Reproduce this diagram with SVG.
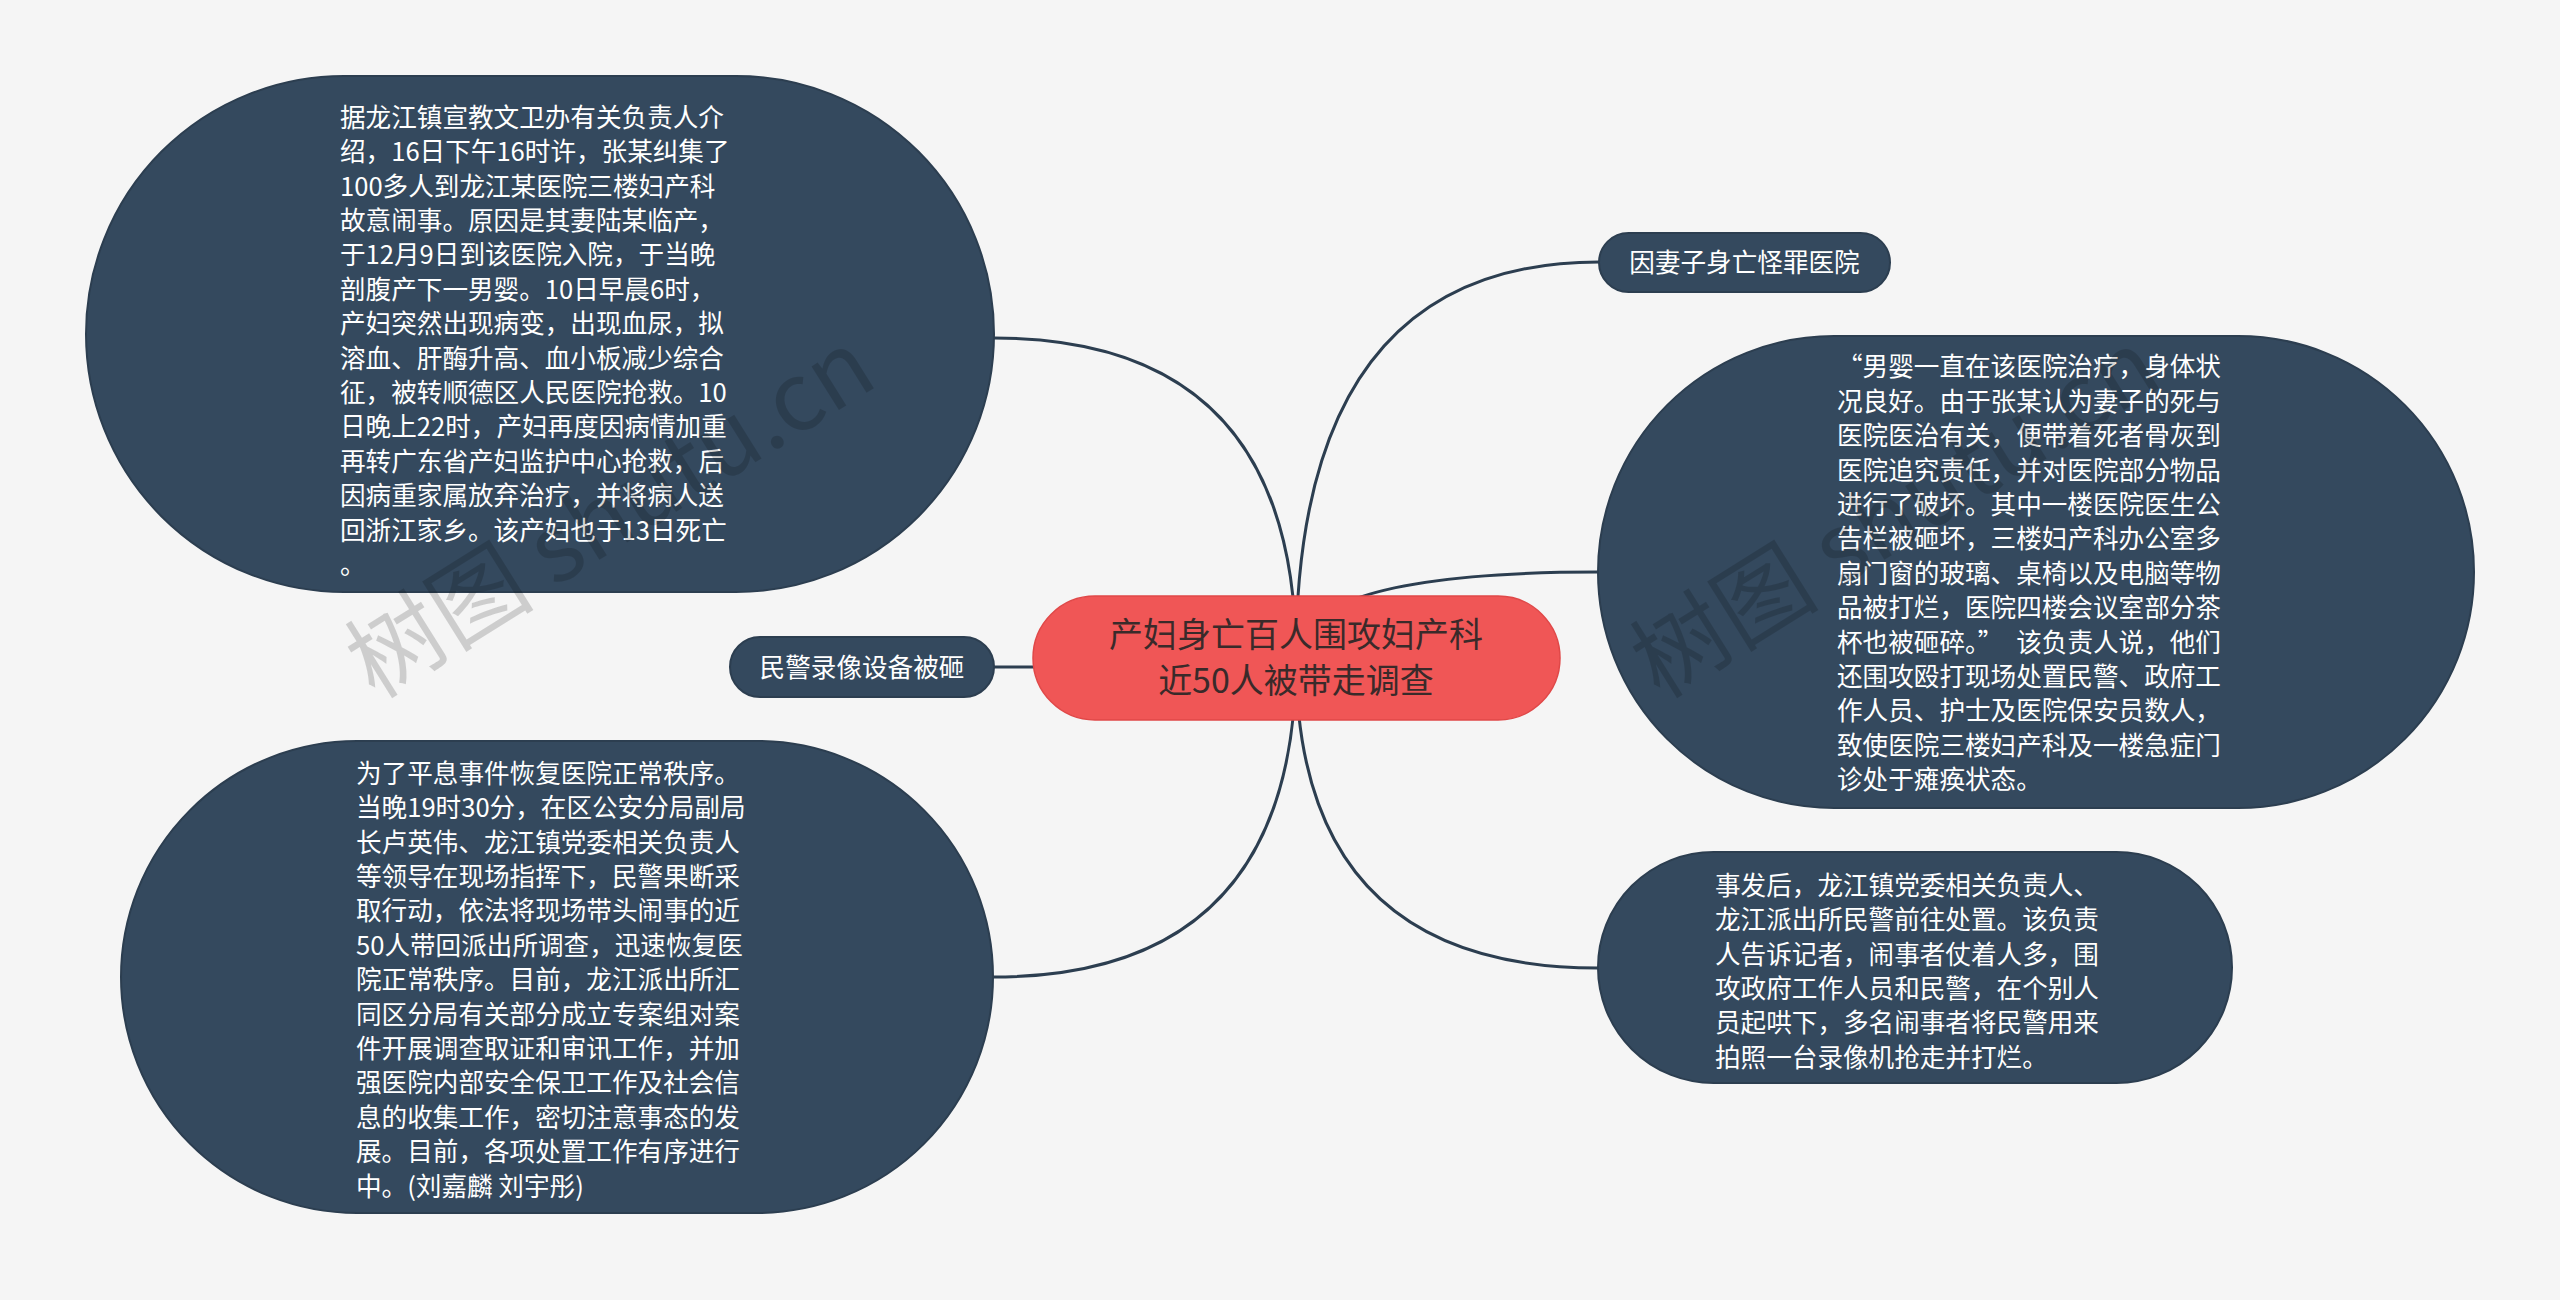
<svg xmlns="http://www.w3.org/2000/svg" width="2560" height="1300" viewBox="0 0 2560 1300">
<style>
.bg{fill:#F5F5F5}
.node{fill:#34495E;stroke:#2C3E50;stroke-width:2}
.root{fill:#F05656;stroke:#E04848;stroke-width:1.5}
.t{font-family:"Noto Sans CJK SC","Liberation Sans",sans-serif;font-size:25.6px;fill:#FFFFFF}
.c{text-anchor:middle}
.rt{font-family:"Noto Sans CJK SC","Liberation Sans",sans-serif;font-size:34px;fill:#3A2A2A;text-anchor:middle}
.edge{fill:none;stroke:#2C3E50;stroke-width:3}
.wm{font-family:"Noto Sans CJK SC","Liberation Sans",sans-serif;font-size:95px;fill:#000000;fill-opacity:0.16}
</style>
<rect class="bg" x="0" y="0" width="2560" height="1300"/>
<g id="connectors">
<path class="edge" d="M1296 658 Q1296 338 994 338"/>
<path class="edge" d="M1296 658 Q1296 262 1599 262"/>
<path class="edge" d="M1296 658 Q1296 572 1598 572"/>
<path class="edge" d="M1296 658 Q1296 667 994 667"/>
<path class="edge" d="M1296 658 Q1296 977 993 977"/>
<path class="edge" d="M1296 658 Q1296 968 1598 968"/>
</g>
<g id="root">
<rect class="root" x="1033" y="596" width="527" height="124" rx="62"/>
<text class="rt" x="1296" y="647">产妇身亡百人围攻妇产科</text>
<text class="rt" x="1296" y="693">近50人被带走调查</text>
</g>
<g id="node-1">
<rect class="node" x="86" y="76" width="908" height="516" rx="258"/>
<text class="t" x="340">
<tspan x="340" y="126.7">据龙江镇宣教文卫办有关负责人介</tspan>
<tspan x="340" y="161.1">绍，16日下午16时许，张某纠集了</tspan>
<tspan x="340" y="195.5">100多人到龙江某医院三楼妇产科</tspan>
<tspan x="340" y="229.9">故意闹事。原因是其妻陆某临产，</tspan>
<tspan x="340" y="264.3">于12月9日到该医院入院，于当晚</tspan>
<tspan x="340" y="298.7">剖腹产下一男婴。10日早晨6时，</tspan>
<tspan x="340" y="333.1">产妇突然出现病变，出现血尿，拟</tspan>
<tspan x="340" y="367.5">溶血、肝酶升高、血小板减少综合</tspan>
<tspan x="340" y="401.9">征，被转顺德区人民医院抢救。10</tspan>
<tspan x="340" y="436.3">日晚上22时，产妇再度因病情加重</tspan>
<tspan x="340" y="470.7">再转广东省产妇监护中心抢救，后</tspan>
<tspan x="340" y="505.1">因病重家属放弃治疗，并将病人送</tspan>
<tspan x="340" y="539.5">回浙江家乡。该产妇也于13日死亡</tspan>
<tspan x="340" y="573.9">。</tspan>
</text>
</g>
<g id="node-2">
<rect class="node" x="1599" y="233" width="291" height="59" rx="29.5"/>
<text class="t c" x="1744.5" y="271.5">因妻子身亡怪罪医院</text>
</g>
<g id="node-3">
<rect class="node" x="1598" y="336" width="876" height="472" rx="236"/>
<text class="t" x="1837">
<tspan x="1837" y="376.4">“男婴一直在该医院治疗，身体状</tspan>
<tspan x="1837" y="410.8">况良好。由于张某认为妻子的死与</tspan>
<tspan x="1837" y="445.2">医院医治有关，便带着死者骨灰到</tspan>
<tspan x="1837" y="479.6">医院追究责任，并对医院部分物品</tspan>
<tspan x="1837" y="514">进行了破坏。其中一楼医院医生公</tspan>
<tspan x="1837" y="548.4">告栏被砸坏，三楼妇产科办公室多</tspan>
<tspan x="1837" y="582.8">扇门窗的玻璃、桌椅以及电脑等物</tspan>
<tspan x="1837" y="617.2">品被打烂，医院四楼会议室部分茶</tspan>
<tspan x="1837" y="651.6">杯也被砸碎。”</tspan><tspan x="2016.2" y="651.6">该负责人说，他们</tspan>
<tspan x="1837" y="686">还围攻殴打现场处置民警、政府工</tspan>
<tspan x="1837" y="720.4">作人员、护士及医院保安员数人，</tspan>
<tspan x="1837" y="754.8">致使医院三楼妇产科及一楼急症门</tspan>
<tspan x="1837" y="789.2">诊处于瘫痪状态。</tspan>
</text>
</g>
<g id="node-4">
<rect class="node" x="730" y="637" width="264" height="60" rx="30"/>
<text class="t c" x="862" y="676.7">民警录像设备被砸</text>
</g>
<g id="node-5">
<rect class="node" x="121" y="741" width="872" height="472" rx="236"/>
<text class="t" x="356">
<tspan x="356" y="782.7">为了平息事件恢复医院正常秩序。</tspan>
<tspan x="356" y="817.1">当晚19时30分，在区公安分局副局</tspan>
<tspan x="356" y="851.5">长卢英伟、龙江镇党委相关负责人</tspan>
<tspan x="356" y="885.9">等领导在现场指挥下，民警果断采</tspan>
<tspan x="356" y="920.3">取行动，依法将现场带头闹事的近</tspan>
<tspan x="356" y="954.7">50人带回派出所调查，迅速恢复医</tspan>
<tspan x="356" y="989.1">院正常秩序。目前，龙江派出所汇</tspan>
<tspan x="356" y="1023.5">同区分局有关部分成立专案组对案</tspan>
<tspan x="356" y="1057.9">件开展调查取证和审讯工作，并加</tspan>
<tspan x="356" y="1092.3">强医院内部安全保卫工作及社会信</tspan>
<tspan x="356" y="1126.7">息的收集工作，密切注意事态的发</tspan>
<tspan x="356" y="1161.1">展。目前，各项处置工作有序进行</tspan>
<tspan x="356" y="1195.5">中。(刘嘉麟 刘宇彤)</tspan>
</text>
</g>
<g id="node-6">
<rect class="node" x="1598" y="852" width="634" height="231" rx="115.5"/>
<text class="t" x="1715">
<tspan x="1715" y="894.7">事发后，龙江镇党委相关负责人、</tspan>
<tspan x="1715" y="929.1">龙江派出所民警前往处置。该负责</tspan>
<tspan x="1715" y="963.5">人告诉记者，闹事者仗着人多，围</tspan>
<tspan x="1715" y="997.9">攻政府工作人员和民警，在个别人</tspan>
<tspan x="1715" y="1032.3">员起哄下，多名闹事者将民警用来</tspan>
<tspan x="1715" y="1066.7">拍照一台录像机抢走并打烂。</tspan>
</text>
</g>
<g id="watermark">
<text class="wm" transform="translate(375,700) rotate(-32)">树图 shutu.cn</text>
<text class="wm" transform="translate(1660,700) rotate(-32)">树图 shutu.cn</text>
</g>
</svg>
